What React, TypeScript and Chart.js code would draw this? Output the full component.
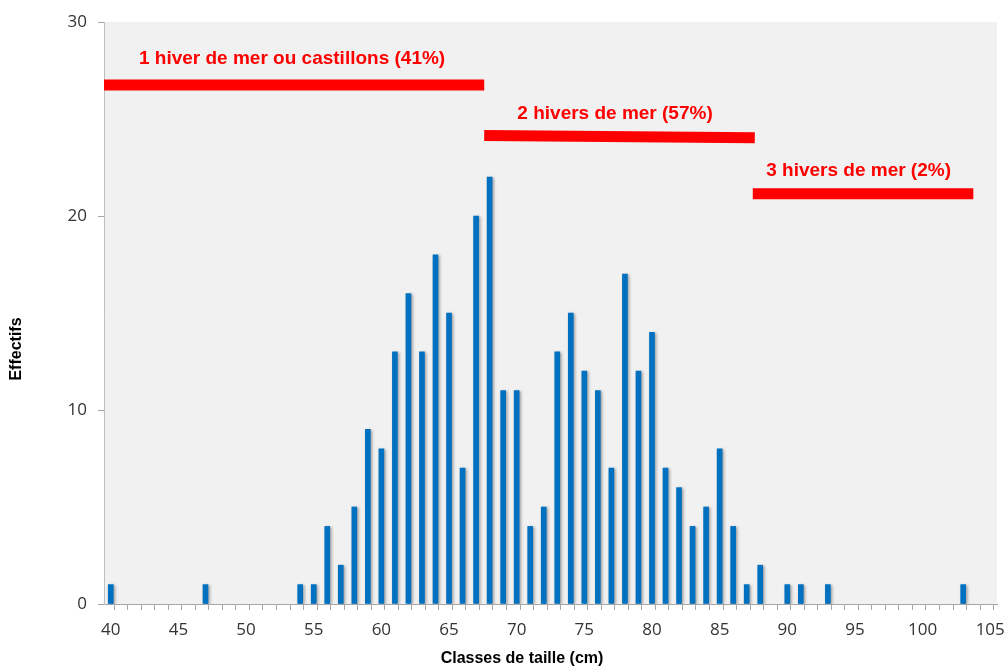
import React, { useEffect, useRef } from "react";
import { Chart, registerables } from "chart.js";

Chart.register(...registerables);

// Size classes (cm) and counts
const sizes = [
  40, 41, 42, 43, 44, 45, 46, 47, 48, 49, 50, 51, 52, 53, 54, 55, 56, 57, 58, 59,
  60, 61, 62, 63, 64, 65, 66, 67, 68, 69, 70, 71, 72, 73, 74, 75, 76, 77, 78, 79,
  80, 81, 82, 83, 84, 85, 86, 87, 88, 89, 90, 91, 92, 93, 94, 95, 96, 97, 98, 99,
  100, 101, 102, 103, 104, 105,
];
const counts = [
  1, 0, 0, 0, 0, 0, 0, 1, 0, 0, 0, 0, 0, 0, 1, 1, 4, 2, 5, 9,
  8, 13, 16, 13, 18, 15, 7, 20, 22, 11, 11, 4, 5, 13, 15, 12, 11, 7, 17, 12,
  14, 7, 6, 4, 5, 8, 4, 1, 2, 0, 1, 1, 0, 1, 0, 0, 0, 0, 0, 0,
  0, 0, 0, 1, 0, 0,
];

const yTicks = [0, 10, 20, 30];
const xLabelStep = 5;

// Annotation bands (sea-winter age groups)
const groupLabels = [
  "1 hiver de mer ou castillons (41%)",
  "2 hivers de mer (57%)",
  "3 hivers de mer (2%)",
];
const groupStart = [39.5, 67.6, 87.45];
const groupEnd = [67.6, 87.6, 103.75];
const groupYStart = [26.75, 24.15, 21.15];
const groupYEnd = [26.75, 24.03, 21.15];
const labelX = [53.4, 77.27, 95.27];
const labelY = [28.1, 25.28, 22.35];

const X_MIN = 39.5;
const X_MAX = 105.5;

export default function App() {
  const ref = useRef<HTMLCanvasElement | null>(null);

  useEffect(() => {
    if (!ref.current) return;

    const bgPlugin = {
      id: "plotBg",
      beforeDraw(chart: any) {
        const { ctx, chartArea } = chart;
        ctx.save();
        ctx.fillStyle = "#f1f1f1";
        ctx.fillRect(chartArea.left, chartArea.top, chartArea.right - chartArea.left, chartArea.bottom - chartArea.top);
        ctx.restore();
      },
      beforeDatasetDraw(chart: any, args: any) {
        if (args.index === 0) {
          const ctx = chart.ctx;
          ctx.save();
          ctx.shadowColor = "rgba(0,0,0,0.35)";
          ctx.shadowBlur = 3;
          ctx.shadowOffsetX = 1.5;
          ctx.shadowOffsetY = 1;
        }
      },
      afterDatasetDraw(chart: any, args: any) {
        if (args.index === 0) chart.ctx.restore();
      },
      afterDatasetsDraw(chart: any) {
        const { ctx, scales } = chart;
        ctx.save();
        ctx.fillStyle = "#ff0000";
        ctx.font = "bold 19px 'Liberation Sans', Arial, sans-serif";
        ctx.textAlign = "center";
        ctx.textBaseline = "middle";
        groupLabels.forEach((t, i) => {
          ctx.fillText(t, scales.x.getPixelForValue(labelX[i]), scales.y.getPixelForValue(labelY[i]));
        });
        ctx.restore();
      },
      afterDraw(chart: any) {
        const { ctx } = chart;
        ctx.save();
        ctx.fillStyle = "#000000";
        ctx.font = "bold 16px 'Liberation Sans', Arial, sans-serif";
        ctx.textAlign = "center";
        ctx.textBaseline = "middle";
        ctx.fillText("Classes de taille (cm)", 522, 659);
        ctx.translate(17, 349);
        ctx.rotate(-Math.PI / 2);
        ctx.fillText("Effectifs", 0, 0);
        ctx.restore();
      },
    };

    const lineSets = groupLabels.map((lab, i) => ({
      type: "line" as const,
      label: lab,
      data: [
        { x: groupStart[i], y: groupYStart[i] },
        { x: groupEnd[i], y: groupYEnd[i] },
      ],
      borderColor: "#ff0000",
      borderWidth: 11,
      borderCapStyle: "butt",
      pointRadius: 0,
      tension: 0,
      fill: false,
    }));

    const chart = new Chart(ref.current, {
      type: "bar",
      data: {
        datasets: [
          {
            type: "bar",
            label: "Effectifs",
            data: sizes.map((s, i) => ({ x: s, y: counts[i] })),
            backgroundColor: (c: any) => (c.raw && c.raw.y > 0 ? "#0070c0" : "rgba(0,0,0,0)"),
            barThickness: 5,
            borderWidth: 0,
          } as any,
          ...(lineSets as any[]),
        ],
      },
      plugins: [bgPlugin],
      options: {
        animation: false,
        responsive: false,
        devicePixelRatio: 1,
        layout: { padding: { left: 0, right: 7, top: 22, bottom: 0 } },
        plugins: {
          legend: { display: false },
          tooltip: { enabled: false },
          title: { display: false },
        },
        scales: {
          x: {
            type: "linear",
            min: X_MIN,
            max: X_MAX,
            offset: false,
            afterBuildTicks(scale: any) {
              const t: any[] = [];
              for (let v = X_MIN; v <= X_MAX + 1e-9; v += 0.5) t.push({ value: v });
              scale.ticks = t;
            },
            afterFit(scale: any) {
              scale.height = 62;
              scale.paddingLeft = 0;
              scale.paddingRight = 0;
            },
            ticks: {
              autoSkip: false,
              maxRotation: 0,
              minRotation: 0,
              padding: 10,
              color: "#333333",
              font: { family: "'Open Sans', sans-serif", size: 17 },
              callback(value: any) {
                const v = Number(value);
                return Number.isInteger(v) && v % xLabelStep === 0 ? String(v) : "";
              },
            },
            grid: {
              drawOnChartArea: false,
              drawTicks: true,
              tickLength: 6,
              color: (ctx: any) =>
                ctx.tick && Number.isInteger(ctx.tick.value) ? "rgba(0,0,0,0)" : "#a6a6a6",
            },
            border: { display: true, color: "#a6a6a6", width: 1 },
          },
          y: {
            type: "linear",
            min: 0,
            max: 30,
            afterBuildTicks(scale: any) {
              scale.ticks = yTicks.map((v) => ({ value: v }));
            },
            afterFit(scale: any) {
              scale.width = 104;
              scale.paddingTop = 0;
              scale.paddingBottom = 0;
            },
            ticks: {
              padding: 11,
              color: "#333333",
              font: { family: "'Open Sans', sans-serif", size: 17 },
            },
            grid: {
              drawOnChartArea: false,
              drawTicks: true,
              tickLength: 6,
              color: "#a6a6a6",
            },
            border: { display: true, color: "#bfbfbf", width: 1 },
          },
        },
      } as any,
    });

    return () => chart.destroy();
  }, []);

  return (
    <div style={{ position: "absolute", left: 0, top: 0, width: 1004, height: 666, background: "#ffffff" }}>
      <canvas ref={ref} width={1004} height={666} style={{ width: 1004, height: 666, display: "block" }} />
    </div>
  );
}
